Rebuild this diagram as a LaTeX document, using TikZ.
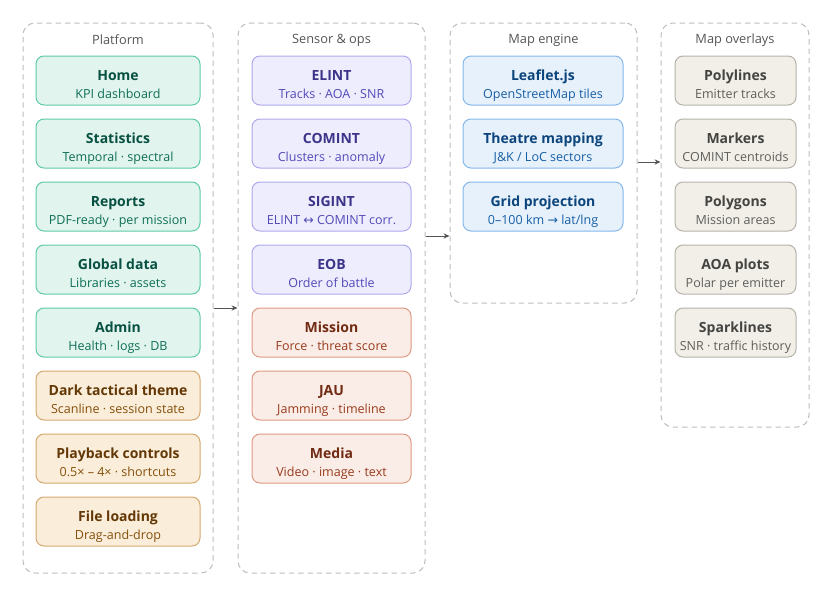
\documentclass[tikz,border=0pt]{standalone}
\usepackage{fontspec}
\setmainfont{Open Sans}
\newfontfamily\symf{DejaVu Sans}
\usetikzlibrary{arrows.meta}
\definecolor{gF}{HTML}{E1F5EE}\definecolor{gD}{HTML}{5DCAA5}\definecolor{gT}{HTML}{085041}\definecolor{gS}{HTML}{0F6E56}
\definecolor{oF}{HTML}{FAEEDA}\definecolor{oD}{HTML}{D4A870}\definecolor{oT}{HTML}{633806}\definecolor{oS}{HTML}{854F0B}
\definecolor{pF}{HTML}{EEEDFE}\definecolor{pD}{HTML}{AFA9EC}\definecolor{pT}{HTML}{3C3489}\definecolor{pS}{HTML}{534AB7}
\definecolor{rF}{HTML}{FAECE7}\definecolor{rD}{HTML}{DE9A82}\definecolor{rT}{HTML}{712B13}\definecolor{rS}{HTML}{993C1D}
\definecolor{bF}{HTML}{E6F1FB}\definecolor{bD}{HTML}{85B7EB}\definecolor{bT}{HTML}{0C447C}\definecolor{bS}{HTML}{185FA5}
\definecolor{nF}{HTML}{F1EFE8}\definecolor{nD}{HTML}{B4B2A9}\definecolor{nT}{HTML}{444441}\definecolor{nS}{HTML}{5F5E5A}
\definecolor{cD}{HTML}{BDBDBD}\definecolor{hT}{HTML}{555555}\definecolor{aC}{HTML}{555555}
\newcommand\boxtitle[1]{{\rule{0pt}{16.5pt}\fontsize{10.5}{13.5}\selectfont\bfseries #1}}
\newcommand\boxsub[1]{{\fontsize{9.4}{13.5}\selectfont #1\rule[-3pt]{0pt}{3pt}}}
\tikzset{
  cont/.style={draw=cD, dashed, dash pattern=on 4pt off 3pt, rounded corners=9pt, line width=0.75pt, inner sep=0pt},
  hdr/.style={text=hT, font=\fontsize{9.6}{12}\selectfont, inner sep=0pt},
  box/.style={rounded corners=6pt, line width=0.75pt, align=center, inner sep=0pt, minimum height=49*0.75pt, font=\fontsize{9.4}{13.5}\selectfont},
  gbox/.style={box, fill=gF, draw=gD, text=gT, minimum width=164*0.75pt},
  obox/.style={box, fill=oF, draw=oD, text=oT, minimum width=164*0.75pt},
  pbox/.style={box, fill=pF, draw=pD, text=pT, minimum width=159*0.75pt},
  rbox/.style={box, fill=rF, draw=rD, text=rT, minimum width=159*0.75pt},
  bbox/.style={box, fill=bF, draw=bD, text=bT, minimum width=160*0.75pt},
  nbox/.style={box, fill=nF, draw=nD, text=nT, minimum width=121*0.75pt},
  arr/.style={draw=aC, line width=0.75pt, -{Stealth[length=4.5pt,width=4pt]}}
}
\begin{document}
\begin{tikzpicture}[x=0.75pt,y=-0.75pt]
\useasboundingbox (0,0) rectangle (832,590);
% containers
\node[cont, minimum width=190*0.75pt, minimum height=550*0.75pt] (plat) at (118,298) {};
\node[cont, minimum width=187*0.75pt, minimum height=550*0.75pt] (sens) at (331.5,298) {};
\node[cont, minimum width=187*0.75pt, minimum height=280*0.75pt] (map) at (543.5,163) {};
\node[cont, minimum width=148*0.75pt, minimum height=404*0.75pt] (ovl) at (735,225) {};
\node[hdr] (hplat) at (118,40) {Platform};
\node[hdr] (hsens) at (331.5,40) {Sensor \& ops};
\node[hdr] (hmap) at (543.5,40) {Map engine};
\node[hdr] (hovl) at (735,40) {Map overlays};
% platform
\node[gbox] (home) at (118,80.5) {\boxtitle{Home}\\\color{gS}\boxsub{KPI dashboard}};
\node[gbox] (stat) at (118,143.5) {\boxtitle{Statistics}\\\color{gS}\boxsub{Temporal · spectral}};
\node[gbox] (rep) at (118,206.5) {\boxtitle{Reports}\\\color{gS}\boxsub{PDF-ready · per mission}};
\node[gbox] (glob) at (118,269.5) {\boxtitle{Global data}\\\color{gS}\boxsub{Libraries · assets}};
\node[gbox] (adm) at (118,332.5) {\boxtitle{Admin}\\\color{gS}\boxsub{Health · logs · DB}};
\node[obox] (dark) at (118,395.5) {\boxtitle{Dark tactical theme}\\\color{oS}\boxsub{Scanline · session state}};
\node[obox] (play) at (118,458.5) {\boxtitle{Playback controls}\\\color{oS}\boxsub{0.5× – 4× · shortcuts}};
\node[obox] (file) at (118,521.5) {\boxtitle{File loading}\\\color{oS}\boxsub{Drag-and-drop}};
% sensor
\node[pbox] (elint) at (331.5,80.5) {\boxtitle{ELINT}\\\color{pS}\boxsub{Tracks · AOA · SNR}};
\node[pbox] (comint) at (331.5,143.5) {\boxtitle{COMINT}\\\color{pS}\boxsub{Clusters · anomaly}};
\node[pbox] (sigint) at (331.5,206.5) {\boxtitle{SIGINT}\\\color{pS}\boxsub{ELINT {\symf ↔} COMINT corr.}};
\node[pbox] (eob) at (331.5,269.5) {\boxtitle{EOB}\\\color{pS}\boxsub{Order of battle}};
\node[rbox] (miss) at (331.5,332.5) {\boxtitle{Mission}\\\color{rS}\boxsub{Force · threat score}};
\node[rbox] (jau) at (331.5,395.5) {\boxtitle{JAU}\\\color{rS}\boxsub{Jamming · timeline}};
\node[rbox] (media) at (331.5,458.5) {\boxtitle{Media}\\\color{rS}\boxsub{Video · image · text}};
% map engine
\node[bbox] (leaf) at (543,80.5) {\boxtitle{Leaflet.js}\\\color{bS}\boxsub{OpenStreetMap tiles}};
\node[bbox] (theat) at (543,143.5) {\boxtitle{Theatre mapping}\\\color{bS}\boxsub{J\&K / LoC sectors}};
\node[bbox] (grid) at (543,206.5) {\boxtitle{Grid projection}\\\color{bS}\boxsub{0–100 km {\symf →} lat/lng}};
% overlays
\node[nbox] (poly) at (735.5,80.5) {\boxtitle{Polylines}\\\color{nS}\boxsub{Emitter tracks}};
\node[nbox] (mark) at (735.5,143.5) {\boxtitle{Markers}\\\color{nS}\boxsub{COMINT centroids}};
\node[nbox] (pgon) at (735.5,206.5) {\boxtitle{Polygons}\\\color{nS}\boxsub{Mission areas}};
\node[nbox] (aoa) at (735.5,269.5) {\boxtitle{AOA plots}\\\color{nS}\boxsub{Polar per emitter}};
\node[nbox] (spark) at (735.5,332.5) {\boxtitle{Sparklines}\\\color{nS}\boxsub{SNR · traffic history}};
% arrows
\draw[arr] (plat.east |- 0,308) -- (sens.west |- 0,308);
\draw[arr] (sens.east |- 0,236) -- (map.west |- 0,236);
\draw[arr] (map.east |- 0,162) -- (ovl.west |- 0,162);
\end{tikzpicture}
\end{document}
